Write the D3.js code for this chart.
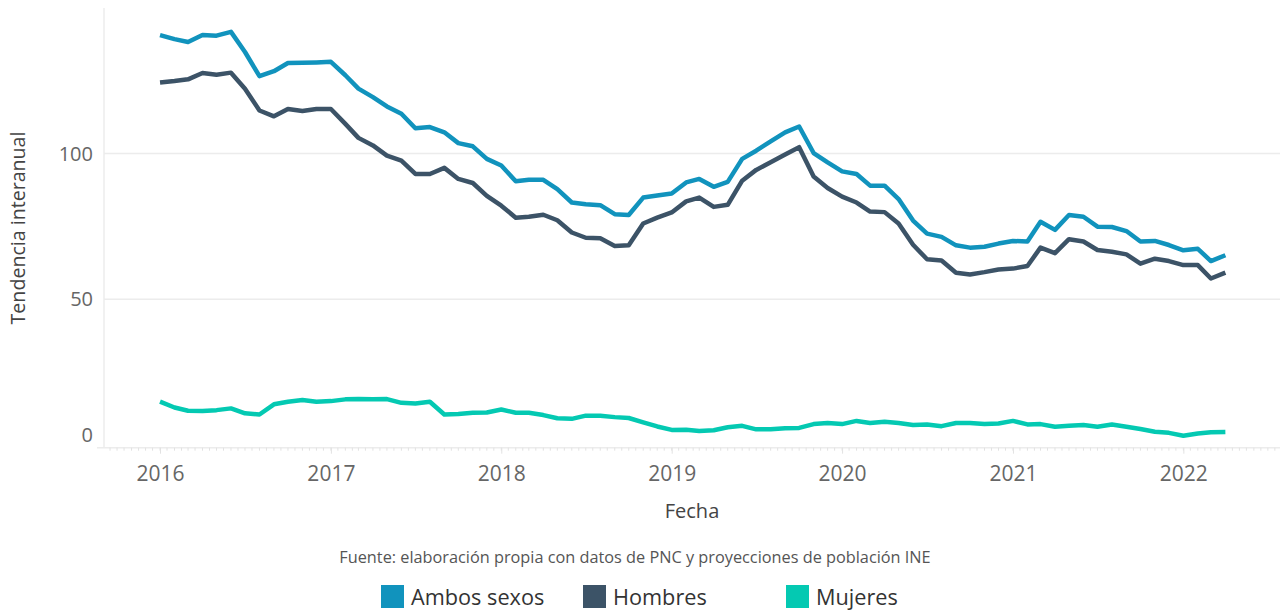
<!DOCTYPE html>
<html>
<head>
<meta charset="utf-8">
<script src="https://cdn.jsdelivr.net/npm/d3@7"></script>
<style>
  body { margin: 0; background: #fff; }
  text { font-family: 'Open Sans', sans-serif; }
</style>
</head>
<body>
<div id="chart"></div>
<script>
// monthly series, Jan 2016 - Apr 2022
const startYear = 2016;
const ambos = [140.7, 139.3, 138.3, 140.7, 140.5, 141.8, 134.9, 126.6, 128.3, 131.1, 131.2, 131.3,
  131.5, 126.9, 122.3, 119.4, 116.2, 113.7, 108.7, 109.1, 107.3, 103.6, 102.5, 98.2,
  95.9, 90.5, 91.0, 91.0, 87.8, 83.2, 82.6, 82.3, 79.2, 78.9, 84.9, 85.6,
  86.3, 90.1, 91.3, 88.6, 90.3, 98.2, 101.0, 104.2, 107.3, 109.3, 100.2, 97.0,
  93.9, 93.0, 89.0, 89.0, 84.4, 77.0, 72.5, 71.4, 68.5, 67.7, 68.0, 69.1,
  70.0, 69.8, 76.6, 73.8, 78.9, 78.3, 74.9, 74.8, 73.4, 69.8, 70.0, 68.6,
  66.8, 67.3, 63.1, 65.1];
const hombres = [124.4, 124.9, 125.5, 127.7, 127.1, 127.8, 122.3, 114.8, 112.8, 115.3, 114.6, 115.3,
  115.3, 110.2, 105.4, 102.8, 99.3, 97.6, 93.0, 93.0, 95.1, 91.3, 89.9, 85.5,
  82.1, 78.0, 78.3, 79.0, 77.1, 72.9, 71.1, 70.9, 68.3, 68.5, 76.0, 78.0,
  79.8, 83.6, 84.9, 81.7, 82.4, 90.7, 94.4, 97.0, 99.7, 102.2, 92.1, 88.2,
  85.2, 83.2, 80.1, 79.9, 76.0, 68.7, 63.7, 63.3, 59.1, 58.5, 59.3, 60.2,
  60.5, 61.4, 67.7, 65.8, 70.6, 69.8, 66.9, 66.3, 65.4, 62.2, 63.9, 63.1,
  61.7, 61.7, 57.1, 59.1];
const mujeres = [14.8, 12.8, 11.7, 11.6, 11.9, 12.5, 10.8, 10.4, 13.9, 14.8, 15.4, 14.8,
  15.0, 15.6, 15.7, 15.6, 15.7, 14.4, 14.2, 14.8, 10.4, 10.6, 11.0, 11.1,
  12.1, 11.0, 11.0, 10.2, 9.1, 8.9, 10.0, 10.0, 9.5, 9.2, 7.7, 6.3,
  5.1, 5.2, 4.7, 5.0, 6.0, 6.5, 5.3, 5.3, 5.7, 5.8, 7.1, 7.5,
  7.1, 8.2, 7.5, 7.9, 7.5, 6.8, 7.0, 6.4, 7.5, 7.5, 7.1, 7.3,
  8.2, 7.0, 7.1, 6.2, 6.5, 6.8, 6.2, 7.0, 6.2, 5.4, 4.5, 4.1,
  3.1, 3.9, 4.3, 4.4];
const seriesNames = ['Ambos sexos', 'Hombres', 'Mujeres'];
const seriesColors = ['#1193bd', '#3c5367', '#04c9b2'];
const yearTicks = [2016, 2017, 2018, 2019, 2020, 2021, 2022];
const yTicks = [0, 50, 100];

function chartInit() {
  const width = 1280;
  const height = 611;
  const left = 104;
  const right = 1280;
  const top = 8;
  const bottom = 447.7;

  const svg = d3.select('#chart')
    .append('svg')
    .attr('width', width)
    .attr('height', height);

  const xScale = d3.scaleTime()
    .domain([new Date(2015, 8, 3), new Date(2022, 6, 27)])
    .range([left, right]);

  const yScale = d3.scaleLinear()
    .domain([-1, 150])
    .range([bottom, top]);

  // gridlines + y axis line
  svg.append('line')
    .attr('x1', left).attr('x2', left)
    .attr('y1', top).attr('y2', bottom)
    .attr('stroke', '#ececec').attr('stroke-width', 1.5);

  svg.selectAll('.grid')
    .data(yTicks.filter((d) => d !== 0))
    .enter()
    .append('line')
    .attr('class', 'grid')
    .attr('x1', left).attr('x2', right)
    .attr('y1', (d) => yScale(d)).attr('y2', (d) => yScale(d))
    .attr('stroke', '#ececec').attr('stroke-width', 1.5);

  // y tick labels
  svg.selectAll('.ylab')
    .data(yTicks)
    .enter()
    .append('text')
    .attr('class', 'ylab')
    .attr('x', 93)
    .attr('y', (d) => yScale(d) - (d === 0 ? 10 : 0))
    .attr('dy', '0.35em')
    .attr('text-anchor', 'end')
    .attr('fill', '#666')
    .style('font-size', '20px')
    .text((d) => d);

  // x axis with half-month minor ticks
  const xAxisG = svg.append('g')
    .attr('transform', `translate(0, ${bottom})`);

  xAxisG.append('line')
    .attr('x1', 97).attr('x2', right)
    .attr('stroke', '#ececec').attr('stroke-width', 1.5);

  const minor = [];
  const d0 = xScale.domain()[0];
  const d1 = xScale.domain()[1];
  d3.timeMonth.range(d3.timeMonth.floor(d0), d1).forEach((m) => {
    minor.push(m, new Date(m.getFullYear(), m.getMonth(), 16));
  });
  xAxisG.selectAll('.minor')
    .data(minor.filter((d) => d >= d0 && d <= d1))
    .enter()
    .append('line')
    .attr('class', 'minor')
    .attr('x1', (d) => xScale(d)).attr('x2', (d) => xScale(d))
    .attr('y1', 0).attr('y2', 3)
    .attr('stroke', '#e2e2e2');

  const xAxis = d3.axisBottom(xScale)
    .tickValues(yearTicks.map((y) => new Date(y, 0, 1)))
    .tickFormat(d3.timeFormat('%Y'))
    .tickSize(6)
    .tickPadding(12);

  const axG = svg.append('g')
    .attr('transform', `translate(0, ${bottom})`)
    .call(xAxis);
  axG.select('.domain').remove();
  axG.selectAll('line').attr('stroke', '#e2e2e2');
  axG.selectAll('text')
    .attr('fill', '#666')
    .style('font-size', '21px')
    .style('font-family', "'Open Sans', sans-serif");

  // lines
  const dates = ambos.map((v, i) => new Date(startYear, i, 1));
  const line = d3.line()
    .x((d, i) => xScale(dates[i]))
    .y((d) => yScale(d));

  [ambos, hombres, mujeres].forEach((s, i) => {
    svg.append('path')
      .datum(s)
      .attr('fill', 'none')
      .attr('stroke', seriesColors[i])
      .attr('stroke-width', 4.5)
      .attr('stroke-linejoin', 'round')
      .attr('d', line);
  });

  // axis titles
  svg.append('text')
    .attr('transform', 'translate(25, 228) rotate(-90)')
    .attr('text-anchor', 'middle')
    .attr('fill', '#444')
    .style('font-size', '19.6px')
    .text('Tendencia interanual');

  svg.append('text')
    .attr('x', 692)
    .attr('y', 518)
    .attr('text-anchor', 'middle')
    .attr('fill', '#444')
    .style('font-size', '20px')
    .text('Fecha');

  svg.append('text')
    .attr('x', 635)
    .attr('y', 563)
    .attr('text-anchor', 'middle')
    .attr('fill', '#555')
    .style('font-size', '16.3px')
    .text('Fuente: elaboración propia con datos de PNC y proyecciones de población INE');

  // legend
  const legendX = [381, 583, 786];
  const legend = svg.selectAll('.leg')
    .data(seriesNames)
    .enter()
    .append('g')
    .attr('class', 'leg')
    .attr('transform', (d, i) => `translate(${legendX[i]}, 585)`);
  legend.append('rect')
    .attr('width', 23).attr('height', 23)
    .attr('fill', (d, i) => seriesColors[i]);
  legend.append('text')
    .attr('x', 30)
    .attr('y', 12)
    .attr('dy', '0.35em')
    .attr('fill', '#333')
    .style('font-size', '21.7px')
    .text((d) => d);
}

window.onload = chartInit;
</script>
</body>
</html>
